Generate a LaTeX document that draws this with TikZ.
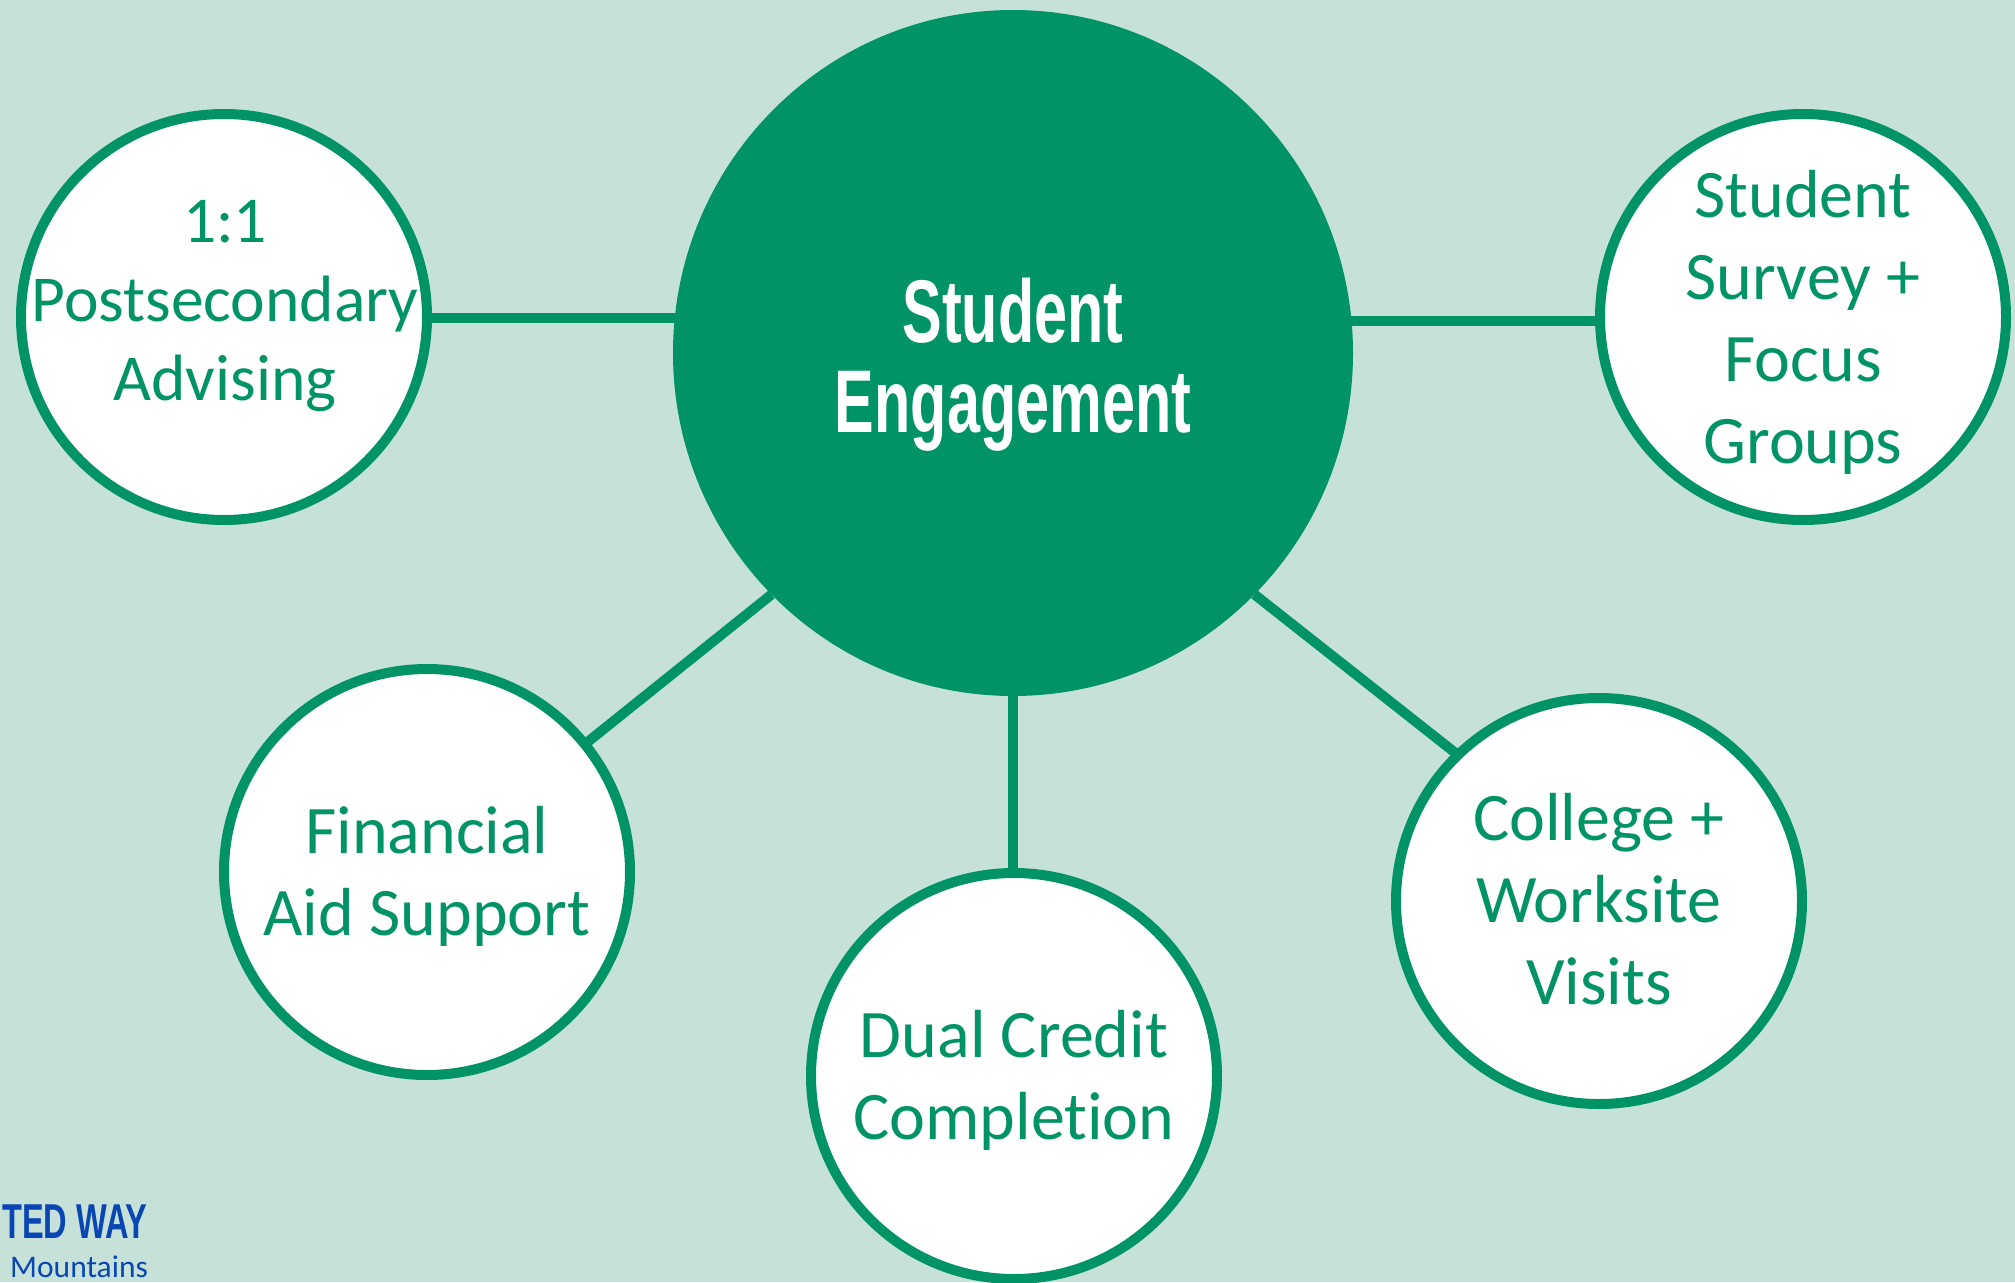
\documentclass[tikz,border=0pt]{standalone}
\usepackage{fontspec}
\setmainfont[Ligatures=NoCommon]{Carlito}
\newfontfamily\headf[FakeStretch=0.667]{Liberation Sans}
\newfontfamily\logof[FakeStretch=0.665]{Liberation Sans}
\usetikzlibrary{backgrounds,calc,shapes.geometric}
\definecolor{pagegreen}{HTML}{C6E2D8}
\definecolor{maingreen}{HTML}{009365}
\definecolor{logoblue}{HTML}{0A45B4}
\tikzset{
  bubble/.style={circle,draw=maingreen,line width=10pt,fill=white,minimum size=406pt,inner sep=0pt,outer sep=0pt},
  hub/.style={ellipse,fill=maingreen,minimum width=680pt,minimum height=686pt,inner sep=0pt,outer sep=0pt},
  bublabel/.style={align=center,text=maingreen,inner sep=0pt,font=\fontsize{68}{82}\selectfont},
  hublabel/.style={align=center,text=white,inner sep=0pt,font=\headf\bfseries\fontsize{89}{90}\selectfont\lineskiplimit-100pt\relax},
  link/.style={draw=maingreen,line width=10pt}
}
\begin{document}
\begin{tikzpicture}[x=1pt,y=-1pt]
\useasboundingbox (0,0) rectangle (2015,1282);
\clip (0,0) rectangle (2015,1282);
\node[hub] (big) at (1013,353) {};
\node[bubble] (a) at (224,317) {};
\node[bubble] (b) at (1803,317) {};
\node[bubble] (c) at (427,872) {};
\node[bubble] (d) at (1014,1076) {};
\node[bubble] (e) at (1599,901) {};
\node[hublabel,anchor=base] (biglab) at (1013,432) {Student\\Engagement};
\node[bublabel,font=\fontsize{65.5}{79}\selectfont] (alab) at (225,306) {1:1\\Postsecondary\\Advising};
\node[bublabel] (blab) at (1803,322) {Student\\Survey +\\Focus\\Groups};
\node[bublabel] (clab) at (427,876) {Financial\\Aid Support};
\node[bublabel] (dlab) at (1014,1080) {Dual Credit\\Completion};
\node[bublabel] (elab) at (1599,899) {College +\\Worksite\\Visits};
\node[anchor=base west,inner sep=0pt,text=logoblue,font=\logof\bfseries\fontsize{49}{49}\selectfont] (logo1) at (2,1238) {TED WAY};
\node[anchor=base west,inner sep=0pt,text=logoblue,font=\fontsize{31.5}{32}\selectfont] (logo2) at (10,1277) {Mountains};
\begin{scope}[on background layer]
\fill[pagegreen] (0,0) rectangle (2015,1282);
\coordinate (la) at ($(a.east)+(0,1)$);
\draw[link] (la) -- (la -| big.center);
\coordinate (rb) at ($(b.center)+(0,4)$);
\draw[link] (rb) -- (rb -| big.center);
\draw[link] (c.39.5) -- (big.225.4);
\draw[link] (big.south) -- (big.south |- d.center);
\draw[link] (e.134.6) -- (big.-45.2);
\end{scope}
\end{tikzpicture}
\end{document}
